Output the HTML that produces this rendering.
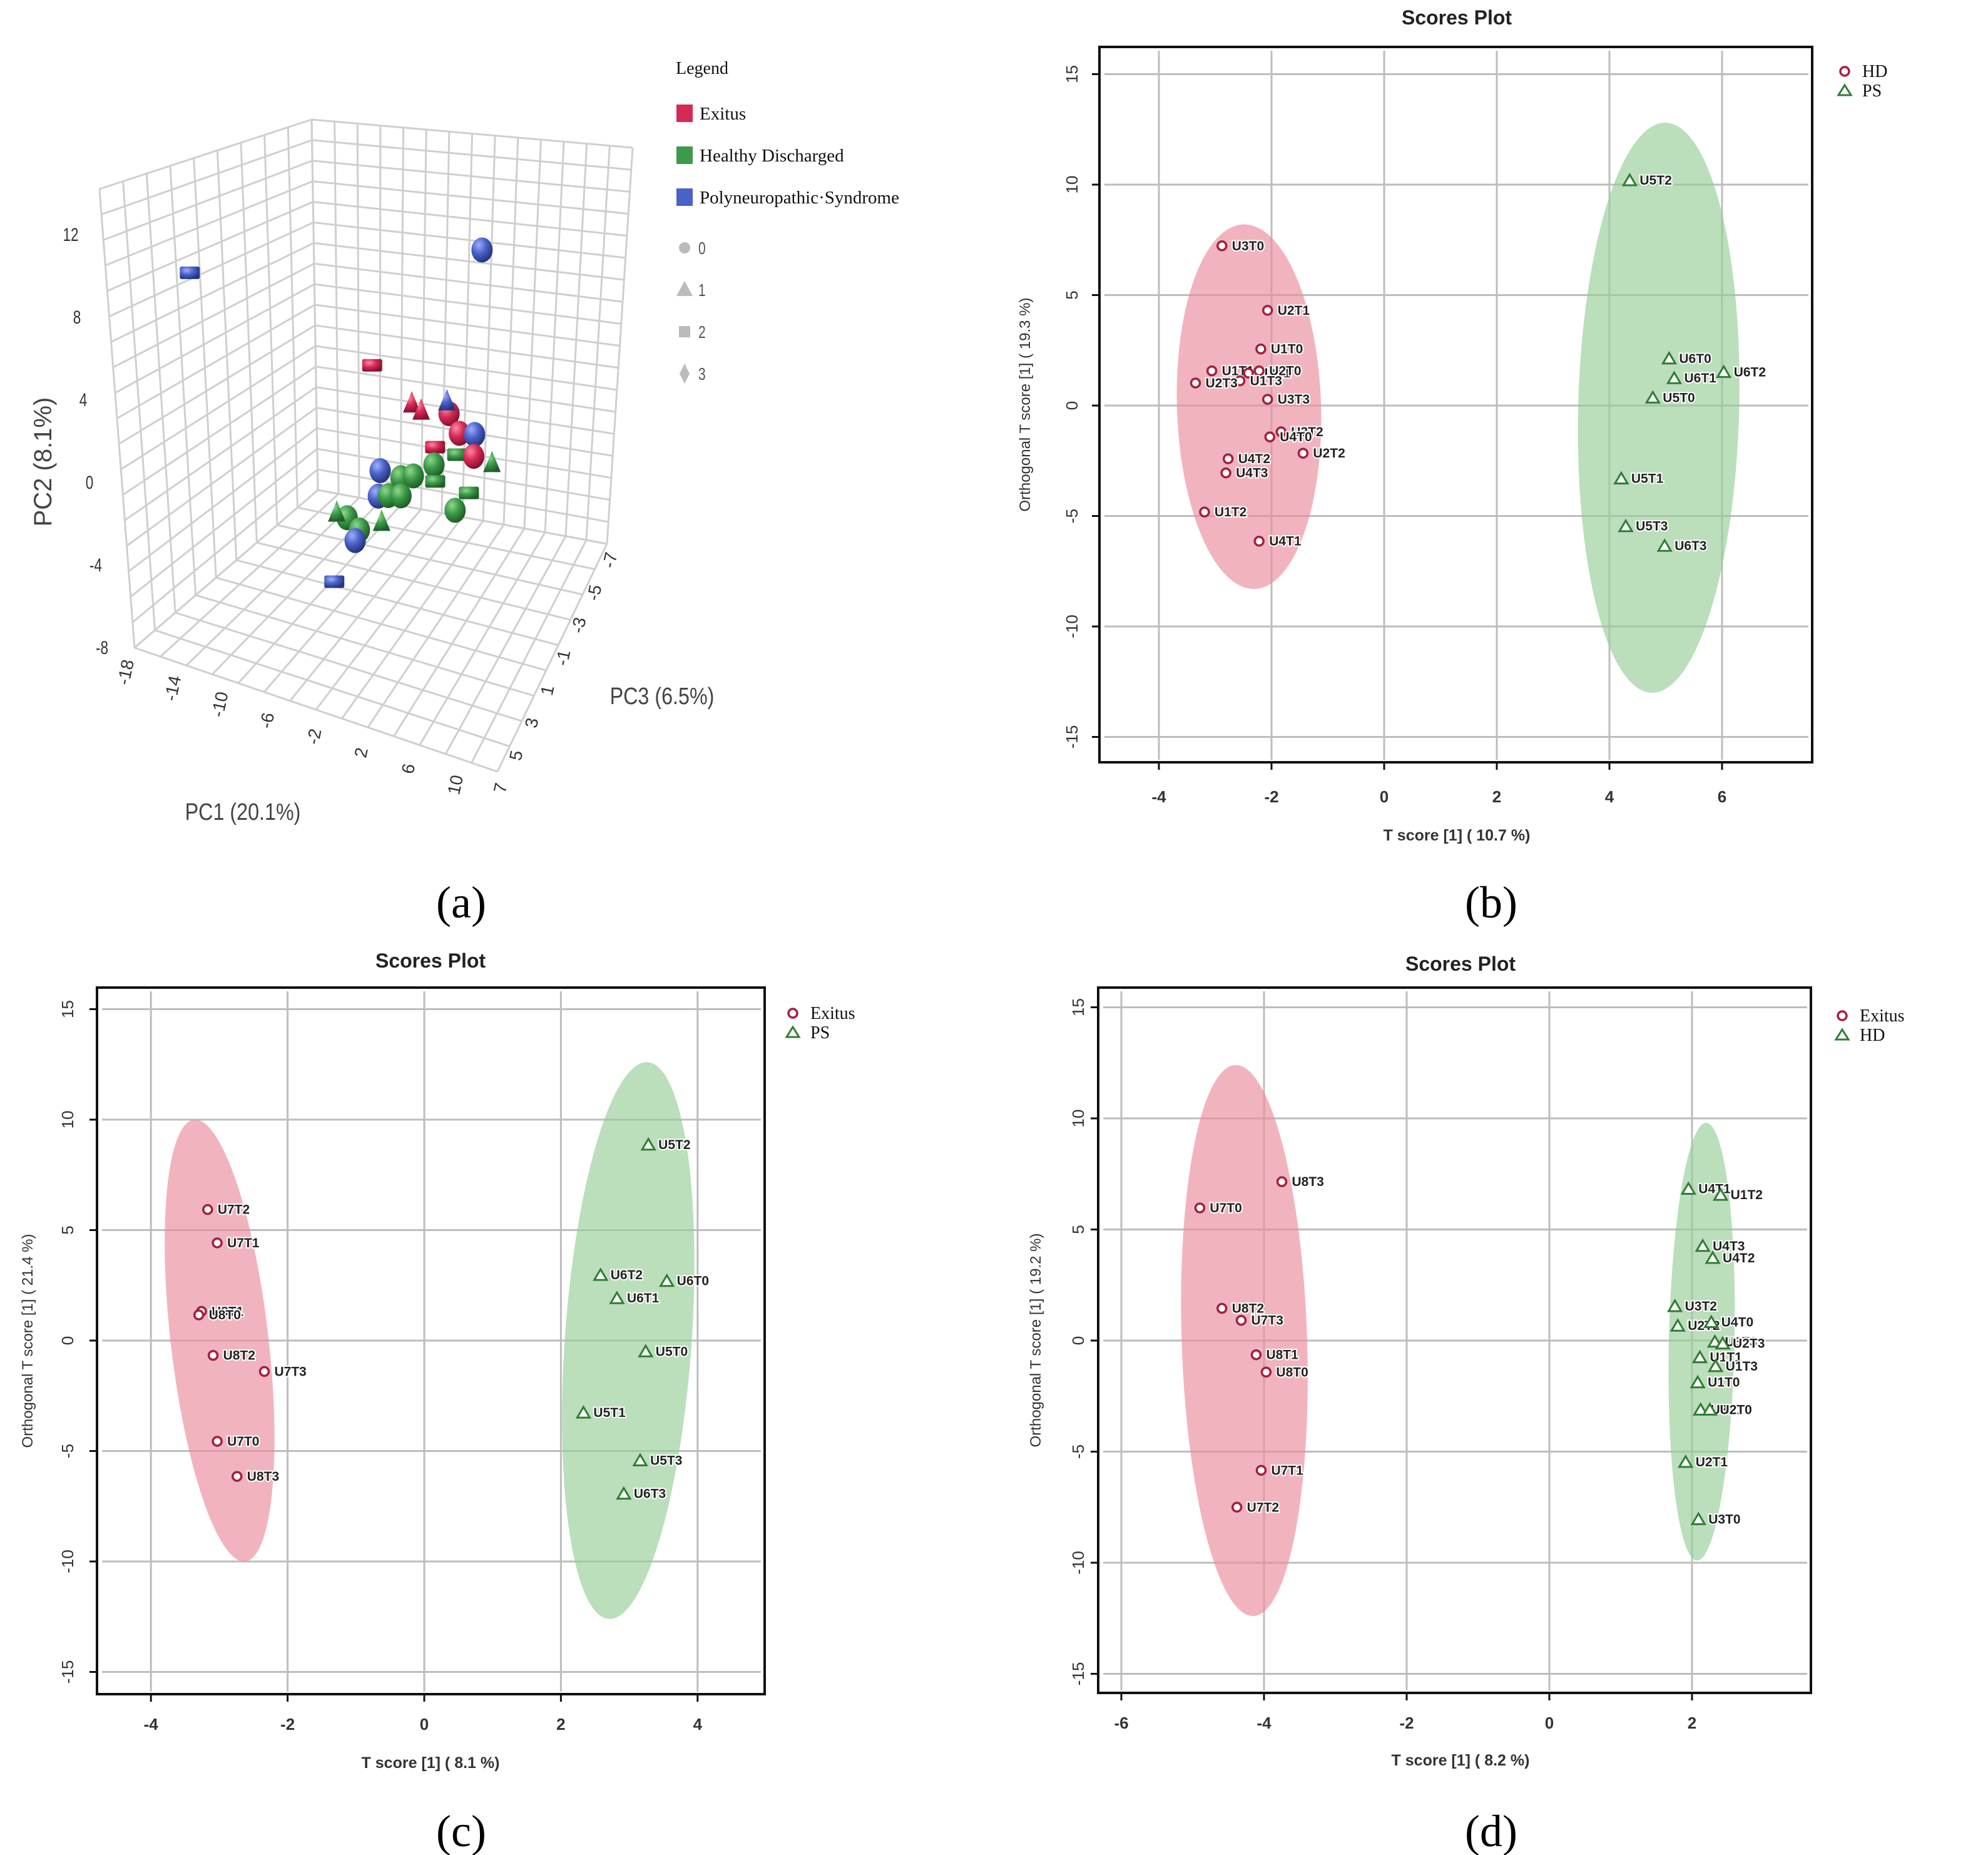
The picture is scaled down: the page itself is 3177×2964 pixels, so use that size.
<!DOCTYPE html>
<html><head><meta charset="utf-8"><style>
html,body{margin:0;padding:0;background:#fff;}
svg{display:block;}
.pl{font-family:"Liberation Sans",sans-serif;font-weight:bold;font-size:21px;fill:#222;stroke:#fff;stroke-width:4px;paint-order:stroke;}
</style></head><body>
<svg id="fig" xmlns="http://www.w3.org/2000/svg" width="3177" height="2964" viewBox="0 0 3177 2964">
<defs>
<radialGradient id="gR" cx="35%" cy="30%" r="70%"><stop offset="0" stop-color="#ff8aa6"/><stop offset="0.5" stop-color="#d42a55"/><stop offset="1" stop-color="#8a1030"/></radialGradient>
<radialGradient id="gG" cx="35%" cy="30%" r="70%"><stop offset="0" stop-color="#8fd88f"/><stop offset="0.5" stop-color="#3c9a48"/><stop offset="1" stop-color="#1f5e26"/></radialGradient>
<radialGradient id="gB" cx="35%" cy="30%" r="70%"><stop offset="0" stop-color="#9fb0ff"/><stop offset="0.5" stop-color="#4a62c8"/><stop offset="1" stop-color="#26357e"/></radialGradient>
</defs>
<g id="panelA"></g>
<g id="panelB"></g>
<g id="panelC"></g>
<g id="panelD"></g>
<text x="737" y="1466" text-anchor="middle" font-family="Liberation Serif, serif" font-size="72">(a)</text>
<text x="2383" y="1466" text-anchor="middle" font-family="Liberation Serif, serif" font-size="72">(b)</text>
<text x="737" y="2950" text-anchor="middle" font-family="Liberation Serif, serif" font-size="72">(c)</text>
<text x="2383" y="2950" text-anchor="middle" font-family="Liberation Serif, serif" font-size="72">(d)</text>
</svg>
<script>
// ---------- Panel B data ----------
const bLabels=["U3T0","U2T1","U1T0","U1T1","U3T1","U2T0","U1T3","U2T3","U3T3","U3T2","U4T0","U2T2","U4T2","U4T3","U1T2","U4T1","U5T2","U6T0","U6T1","U6T2","U5T0","U5T1","U5T3","U6T3"];
const bX=[-2.88,-2.07,-2.19,-3.06,-2.41,-2.22,-2.56,-3.35,-2.07,-1.83,-2.03,-1.44,-2.77,-2.81,-3.19,-2.22,4.36,5.06,5.15,6.03,4.77,4.21,4.29,4.98];
const bY=[7.23,4.31,2.56,1.57,1.47,1.57,1.12,1.02,0.28,-1.19,-1.42,-2.16,-2.41,-3.05,-4.82,-6.14,10.2,2.13,1.24,1.52,0.36,-3.30,-5.46,-6.35];
const bGroup=[0,0,0,0,0,0,0,0,0,0,0,0,0,0,0,0,1,1,1,1,1,1,1,1];
const bGroups=["HD","PS"];
const bEllTop=[[-2.5,8.2],[5.0,12.8]];
const bEllBot=[[-2.3,-8.3],[4.75,-13.0]];
const bEllHW=[1.28,1.43];
const bXTicks=[-4,-2,0,2,4,6];
const bYTicks=[-15,-10,-5,0,5,10,15];
// ---------- Panel C data ----------
const cLabels=["U7T2","U7T1","U8T1","U8T0","U8T2","U7T3","U7T0","U8T3","U5T2","U6T2","U6T0","U6T1","U5T0","U5T1","U5T3","U6T3"];
const cX=[-3.17,-3.03,-3.26,-3.3,-3.09,-2.34,-3.03,-2.74,3.28,2.58,3.55,2.82,3.24,2.33,3.16,2.92];
const cY=[5.93,4.42,1.32,1.16,-0.67,-1.40,-4.56,-6.15,8.87,2.97,2.70,1.92,-0.49,-3.26,-5.42,-6.93];
const cGroup=[0,0,0,0,0,0,0,0,1,1,1,1,1,1,1,1];
const cGroups=["Exitus","PS"];
const cEllTop=[[-3.37,10.0],[3.27,12.6]];
const cEllBot=[[-2.62,-10.0],[2.7,-12.6]];
const cEllHW=[0.72,0.93];
const cXTicks=[-4,-2,0,2,4];
const cYTicks=[-15,-10,-5,0,5,10,15];
// ---------- Panel D data ----------
const dLabels=["U8T3","U7T0","U8T2","U7T3","U8T1","U8T0","U7T1","U7T2","U4T1","U1T2","U4T3","U4T2","U3T2","U2T2","U4T0","U3T3","U2T3","U1T1","U1T3","U1T0","U3T1","U2T0","U2T1","U3T0"];
const dX=[-3.75,-4.9,-4.59,-4.32,-4.11,-3.97,-4.04,-4.38,1.95,2.40,2.15,2.29,1.76,1.80,2.27,2.32,2.43,2.11,2.33,2.08,2.12,2.25,1.91,2.09];
const dY=[7.15,5.97,1.45,0.91,-0.64,-1.42,-5.84,-7.5,6.83,6.56,4.26,3.72,1.55,0.67,0.83,-0.05,-0.13,-0.75,-1.15,-1.88,-3.11,-3.11,-5.46,-8.04];
const dGroup=[0,0,0,0,0,0,0,0,1,1,1,1,1,1,1,1,1,1,1,1,1,1,1,1];
const dGroups=["Exitus","HD"];
const dEllTop=[[-4.4,12.4],[2.2,9.8]];
const dEllBot=[[-4.15,-12.4],[2.07,-9.9]];
const dEllHW=[0.88,0.46];
const dXTicks=[-6,-4,-2,0,2];
const dYTicks=[-15,-10,-5,0,5,10,15];
// ---------- Panel A data (3D PCA) ----------
const aPC1=[-19.1,4.2,-5.2,-2.3,-1.6,0.6,0.5,1.3,2.5,-0.7,1.0,2.3,3.7,-5.2,-3.6,-2.6,-0.9,-0.9,1.7,-5.5,-4.7,-3.7,0.5,-5.4,-8.1,-7.2,-8.9,-7.6,-9.5];
const aPC2=[6.1,12.2,4.6,3.3,3.1,3.5,4.0,2.7,2.9,1.6,1.6,1.8,1.7,-0.5,-0.5,-0.2,0.7,-0.1,-0.1,-1.8,-1.6,-1.4,-1.2,-3.1,-3.4,-3.8,-3.4,-4.4,-6.8];
const aGroup=[2,2,0,0,0,0,2,0,2,0,1,0,1,2,1,1,1,1,1,2,1,1,1,1,1,1,1,2,2];
const aShape=[2,0,2,1,1,0,1,0,0,2,2,0,1,0,0,0,0,2,2,0,0,0,0,1,0,0,1,0,2];
const aPC2Ticks=[12,8,4,0,-4,-8];
const aPC1Ticks=[-18,-14,-10,-6,-2,2,6,10];
const aPC3Ticks=[-7,-5,-3,-1,1,3,5,7];
const aGroupNames=["Exitus","Healthy Discharged","Polyneuropathic·Syndrome"];
const aShapeNames=["0","1","2","3"];

const NS="http://www.w3.org/2000/svg";
function el(tag,parent,attrs){const e=document.createElementNS(NS,tag);for(const k in attrs)e.setAttribute(k,attrs[k]);parent.appendChild(e);return e;}

function scatterPanel(g,cfg,labels,xs,ys,grp,groups,eTop,eBot,eHW,xt,yt){
  const sx=v=>cfg.x0+v*cfg.ux, sy=v=>cfg.y0-v*cfg.uy;
  const [L,T,R,B]=cfg.box;
  const t=el("text",g,{x:cfg.cx,y:cfg.titleY,"text-anchor":"middle","font-family":"Liberation Sans, sans-serif","font-weight":"bold","font-size":"32",fill:"#222"});
  t.textContent="Scores Plot";
  
  
  xt.forEach(v=>{const l=el("line",g,{x1:sx(v),x2:sx(v),y1:T+6,y2:B-4,stroke:"#bdbdbd","stroke-width":"3"});
    
    });
  yt.forEach(v=>{const l=el("line",g,{x1:L+8,x2:R-6,y1:sy(v),y2:sy(v),stroke:"#bdbdbd","stroke-width":"3"});
    
    });
  const ecol=["rgba(233,140,155,0.65)","rgba(150,205,150,0.65)"];
  for(let i=0;i<eTop.length;i++){
    const tx=sx(eTop[i][0]),ty=sy(eTop[i][1]),bx=sx(eBot[i][0]),by=sy(eBot[i][1]);
    const cx=(tx+bx)/2,cy=(ty+by)/2,ry=Math.hypot(tx-bx,ty-by)/2;
    const ang=Math.atan2(tx-bx,by-ty);
    const rx=eHW[i]*cfg.ux*Math.cos(ang);
    const e=el("ellipse",g,{cx:cx,cy:cy,rx:rx,ry:ry,fill:ecol[i],transform:`rotate(${ang*180/Math.PI} ${cx} ${cy})`});
    
    
  }
  const fr=el("rect",g,{x:L,y:T,width:R-L,height:B-T,fill:"none",stroke:"#111","stroke-width":"4"});
  
  
  xt.forEach(v=>{
    const l=el("line",g,{x1:sx(v),x2:sx(v),y1:B,y2:B+12,stroke:"#111","stroke-width":"3"});
    
    
    const tx=el("text",g,{x:sx(v),y:cfg.xtY,"text-anchor":"middle","font-family":"Liberation Sans, sans-serif","font-weight":"bold","font-size":"26",fill:"#333"});
    tx.textContent=String(v);
    
    
  });
  yt.forEach(v=>{
    const l=el("line",g,{x1:L-12,x2:L,y1:sy(v),y2:sy(v),stroke:"#111","stroke-width":"3"});
    
    
    const tx=el("text",g,{x:cfg.ytX,y:sy(v),"text-anchor":"middle","font-family":"Liberation Sans, sans-serif","font-size":"26",fill:"#333",transform:`rotate(-90 ${cfg.ytX} ${sy(v)})`});
    tx.textContent=String(v);
    
    
  });
  const xl=el("text",g,{x:cfg.cx,y:cfg.xlY,"text-anchor":"middle","font-family":"Liberation Sans, sans-serif","font-weight":"bold","font-size":"25",fill:"#333"});
  xl.textContent=cfg.xlab;
  
  
  const ym=(T+B)/2;
  const yl=el("text",g,{x:cfg.ylX,y:ym,"text-anchor":"middle","font-family":"Liberation Sans, sans-serif","font-size":"24",fill:"#333",transform:`rotate(-90 ${cfg.ylX} ${ym})`});
  yl.textContent=cfg.ylab;
  
  
  for(let i=0;i<labels.length;i++){
    const px=sx(xs[i]),py=sy(ys[i]);
    let m;
    if(grp[i]===0){m=el("circle",g,{cx:px,cy:py,r:7,fill:"#fff",stroke:"#a3203f","stroke-width":"3.5"});}
    else{m=el("path",g,{d:`M${px} ${py-9}L${px+10} ${py+8}L${px-10} ${py+8}Z`,fill:"#fff",stroke:"#2e7d32","stroke-width":"3"});}
    
    
    const tl=el("text",g,{x:px+16,y:py+7,"class":"pl"});
    tl.textContent=labels[i];
    
    
  }
  groups.forEach((name,i)=>{
    const ly=cfg.legY+i*31, lx=cfg.legX;
    let m;
    if(i===0){m=el("circle",g,{cx:lx,cy:ly,r:7,fill:"#fff",stroke:"#a3203f","stroke-width":"3.5"});}
    else{m=el("path",g,{d:`M${lx} ${ly-9}L${lx+10} ${ly+7}L${lx-10} ${ly+7}Z`,fill:"#fff",stroke:"#2e7d32","stroke-width":"3"});}
    
    
    const t2=el("text",g,{x:lx+28,y:ly+9,"font-family":"Liberation Serif, serif","font-size":"28",fill:"#111"});
    t2.textContent=name;
    
    
  });
}

scatterPanel(document.getElementById("panelB"),{x0:2212,ux:90,y0:648,uy:35.3,box:[1757,75,2896,1218],cx:2328,titleY:39,xtY:1282,ytX:1722,xlY:1343,ylX:1646,xlab:"T score [1] ( 10.7 %)",ylab:"Orthogonal T score [1] ( 19.3 %)",legX:2948,legY:114},
  bLabels,bX,bY,bGroup,bGroups,bEllTop,bEllBot,bEllHW,bXTicks,bYTicks);
scatterPanel(document.getElementById("panelC"),{x0:678,ux:109.2,y0:2142,uy:35.3,box:[155,1578,1222,2707],cx:688,titleY:1546,xtY:2764,ytX:117,xlY:2825,ylX:52,xlab:"T score [1] ( 8.1 %)",ylab:"Orthogonal T score [1] ( 21.4 %)",legX:1267,legY:1619},
  cLabels,cX,cY,cGroup,cGroups,cEllTop,cEllBot,cEllHW,cXTicks,cYTicks);
scatterPanel(document.getElementById("panelD"),{x0:2476,ux:114,y0:2142,uy:35.5,box:[1755,1578,2894,2705],cx:2334,titleY:1551,xtY:2762,ytX:1732,xlY:2821,ylX:1663,xlab:"T score [1] ( 8.2 %)",ylab:"Orthogonal T score [1] ( 19.2 %)",legX:2944,legY:1623},
  dLabels,dX,dY,dGroup,dGroups,dEllTop,dEllBot,dEllHW,dXTicks,dYTicks);

// ---------- Panel A ----------
(function(){
  const g=document.getElementById("panelA");
  const A=[159,302],Bc=[498,191],C=[1011,236],D=[508,783],E=[215,1035],F=[970,869],G=[795,1233];
  const lerp=(p,q,t)=>[p[0]+(q[0]-p[0])*t,p[1]+(q[1]-p[1])*t];
  function grid(p00,p10,p01,p11,nu,nv,name){
    for(let i=0;i<=nu;i++){const t=i/nu;const a=lerp(p00,p10,t),b=lerp(p01,p11,t);
      const l=el("line",g,{x1:a[0],y1:a[1],x2:b[0],y2:b[1],stroke:"#cfcfcf","stroke-width":"3"});
      
      }
    for(let j=0;j<=nv;j++){const t=j/nv;const a=lerp(p00,p01,t),b=lerp(p10,p11,t);
      const l=el("line",g,{x1:a[0],y1:a[1],x2:b[0],y2:b[1],stroke:"#cfcfcf","stroke-width":"3"});
      
      }
  }
  grid(E,D,A,Bc,9,18,"left-wall");
  grid(D,F,Bc,C,14,18,"right-wall");
  grid(E,G,D,F,14,9,"floor");
  const u1=[20.7,7.07],u2=[-2.5,-33],u3=[-20.9,18];
  const proj=(p1,p2,p3)=>[E[0]+(p1+18)*u1[0]+(p2+8)*u2[0]+(p3-7)*u3[0],E[1]+(p1+18)*u1[1]+(p2+8)*u2[1]+(p3-7)*u3[1]];
  aPC2Ticks.forEach(v=>{const p=proj(-18,v,7);
    const t=el("text",g,{x:0,y:0,"text-anchor":"middle","font-family":"Liberation Sans, sans-serif","font-size":"30",fill:"#333",transform:`translate(${p[0]-52} ${p[1]+10}) scale(0.75 1)`});
    t.textContent=String(v);
    
    });
  aPC1Ticks.forEach((v,i)=>{const f=i/(aPC1Ticks.length-1);const p=lerp(E,G,f);const ox=-5+(-53)*f, oy=41-18*f;
    const t=el("text",g,{x:0,y:0,"text-anchor":"middle","font-family":"Liberation Sans, sans-serif","font-size":"28",fill:"#333",transform:`translate(${p[0]+ox} ${p[1]+oy}) rotate(-78)`});
    t.textContent=String(v);
    
    });
  aPC3Ticks.forEach((v,i)=>{const f=(7-v)/14;const p=lerp(G,F,f);
    const t=el("text",g,{x:0,y:0,"text-anchor":"middle","font-family":"Liberation Sans, sans-serif","font-size":"28",fill:"#333",transform:`translate(${p[0]+14} ${p[1]+28}) rotate(-78)`});
    t.textContent=String(v);
    
    });
  const t1=el("text",g,{x:0,y:0,"text-anchor":"middle","font-family":"Liberation Sans, sans-serif","font-size":"40",fill:"#444",transform:"translate(82 738) rotate(-90)"});
  t1.textContent="PC2 (8.1%)";
  
  
  const t2=el("text",g,{x:0,y:0,"text-anchor":"middle","font-family":"Liberation Sans, sans-serif","font-size":"38",fill:"#444",transform:"translate(388 1310) scale(0.85 1)"});
  t2.textContent="PC1 (20.1%)";
  
  
  const t3=el("text",g,{x:0,y:0,"text-anchor":"middle","font-family":"Liberation Sans, sans-serif","font-size":"38",fill:"#444",transform:"translate(1058 1125) scale(0.85 1)"});
  t3.textContent="PC3 (6.5%)";
  
  
  const fills=["url(#gR)","url(#gG)","url(#gB)"];
  const names=["exitus","healthy","polyneuropathic"];
  for(let i=0;i<aPC1.length;i++){
    const p=proj(aPC1[i],aPC2[i],0);
    let m;
    if(aShape[i]===0) m=el("ellipse",g,{cx:p[0],cy:p[1],rx:17,ry:20,fill:fills[aGroup[i]]});
    else if(aShape[i]===1) m=el("path",g,{d:`M${p[0]} ${p[1]-22}L${p[0]+14} ${p[1]+12}L${p[0]-14} ${p[1]+12}Z`,fill:fills[aGroup[i]]});
    else m=el("rect",g,{x:p[0]-16,y:p[1]-10,width:32,height:20,rx:3,fill:fills[aGroup[i]]});
    
    
  }
  const lg=el("text",g,{x:1080,y:118,"font-family":"Liberation Serif, serif","font-size":"28",fill:"#111"});
  lg.textContent="Legend";
  
  
  const cols=["#d42a55","#3c9a48","#4a62c8"];
  aGroupNames.forEach((n,i)=>{const y=181+i*67;
    const r=el("rect",g,{x:1081,y:y-14,width:26,height:28,fill:cols[i]});
    
    
    const t=el("text",g,{x:1118,y:y+10,"font-family":"Liberation Serif, serif","font-size":"29",fill:"#111"});
    t.textContent=n;
    
    });
  aShapeNames.forEach((n,i)=>{const y=396+i*67;let m;const x=1094;
    if(i===0) m=el("circle",g,{cx:x,cy:y,r:9,fill:"#bbb"});
    else if(i===1) m=el("path",g,{d:`M${x} ${y-14}L${x+13} ${y+10}L${x-13} ${y+10}Z`,fill:"#bbb"});
    else if(i===2) m=el("rect",g,{x:x-9,y:y-9,width:18,height:18,fill:"#bbb"});
    else m=el("path",g,{d:`M${x} ${y-16}L${x+8} ${y}L${x} ${y+16}L${x-8} ${y}Z`,fill:"#bbb"});
    
    
    const t=el("text",g,{x:0,y:0,"font-family":"Liberation Sans, sans-serif","font-size":"28",fill:"#555",transform:`translate(1116 ${y+10}) scale(0.75 1)`});
    t.textContent=n;
    
    });
})();
</script>
</body></html>
